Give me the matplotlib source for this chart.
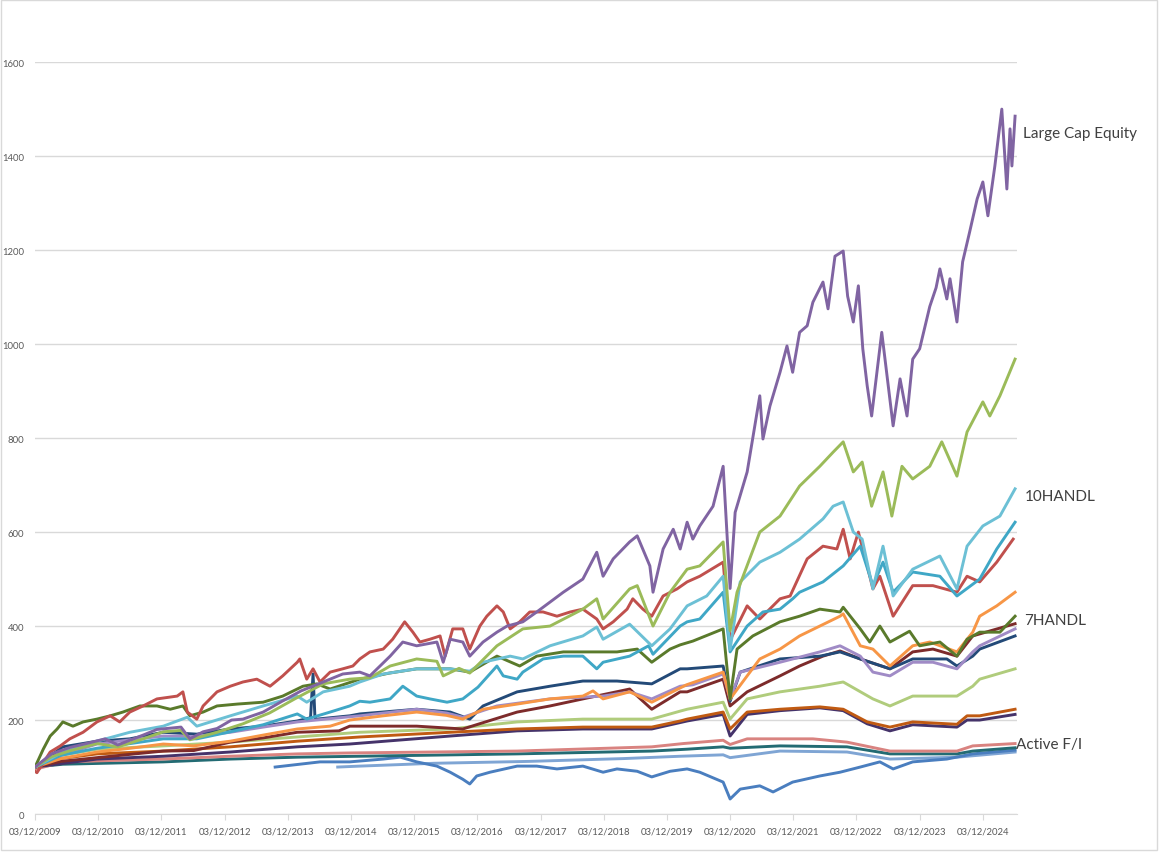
import matplotlib
matplotlib.use("Agg")
import matplotlib.pyplot as plt
from matplotlib.patches import Rectangle

plt.rcParams["font.family"] = ["Lato", "DejaVu Sans"]

# x values are decimal years (03/12/2009 = 2009.19)
large_cap_t = [2009.19, 2009.45, 2009.75, 2010.0, 2010.3, 2010.5, 2010.9, 2011.12, 2011.5, 2011.64,
               2011.85, 2012.07, 2012.3, 2012.48, 2012.8, 2013.1, 2013.4, 2013.75, 2014.06, 2014.33,
               2014.49, 2014.81, 2015.01, 2015.23, 2015.55, 2015.65, 2015.76, 2015.96, 2016.07, 2016.28,
               2016.5, 2016.66, 2016.91, 2017.13, 2017.34, 2017.55, 2017.86, 2018.08, 2018.18, 2018.34,
               2018.6, 2018.72, 2018.92, 2018.97, 2019.13, 2019.29, 2019.4, 2019.51, 2019.6, 2019.71,
               2019.92, 2020.08, 2020.19, 2020.27, 2020.46, 2020.66, 2020.71, 2020.82, 2020.98, 2021.09,
               2021.18, 2021.29, 2021.41, 2021.5, 2021.66, 2021.74, 2021.85, 2021.98, 2022.05, 2022.14,
               2022.22, 2022.29, 2022.36, 2022.43, 2022.59, 2022.77, 2022.88, 2022.99, 2023.08, 2023.19,
               2023.35, 2023.45, 2023.51, 2023.62, 2023.67, 2023.78, 2023.87, 2023.98, 2024.1, 2024.19,
               2024.27, 2024.38, 2024.49, 2024.57, 2024.62, 2024.65, 2024.7]
large_cap_v = [100, 128, 142, 150, 160, 147, 168, 180, 185, 160,
               175, 182, 200, 202, 217, 240, 262, 281, 298, 302,
               294, 336, 366, 358, 366, 323, 372, 366, 336, 366,
               387, 400, 409, 430, 451, 472, 500, 557, 506, 543,
               579, 592, 528, 472, 564, 606, 564, 621, 585, 613,
               655, 740, 480, 642, 728, 890, 798, 868, 940, 996,
               940, 1025, 1039, 1089, 1132, 1075, 1187, 1198, 1102, 1047,
               1124, 990, 911, 847, 1025, 826, 926, 847, 968, 990,
               1080, 1120, 1160, 1096, 1139, 1047, 1175, 1238, 1309, 1345,
               1273, 1379, 1500, 1330, 1458, 1379, 1485]

green_t = [2009.19, 2009.45, 2009.75, 2010.17, 2010.5, 2010.9, 2011.22, 2011.5, 2011.64, 2012.07,
           2012.48, 2012.9, 2013.3, 2013.75, 2014.17, 2014.49, 2014.81, 2015.23, 2015.55, 2015.65,
           2015.9, 2016.07, 2016.5, 2016.91, 2017.34, 2017.86, 2018.08, 2018.18, 2018.6, 2018.72,
           2018.97, 2019.24, 2019.51, 2019.71, 2020.08, 2020.19, 2020.3, 2020.66, 2020.98, 2021.29,
           2021.61, 2021.82, 2021.98, 2022.14, 2022.28, 2022.43, 2022.61, 2022.75, 2022.91, 2023.08,
           2023.35, 2023.54, 2023.78, 2023.94, 2024.19, 2024.3, 2024.46, 2024.7]
green_v = [100, 122, 135, 150, 143, 160, 175, 178, 158, 174,
           192, 215, 245, 277, 287, 290, 315, 330, 325, 294,
           310, 300, 358, 394, 400, 436, 458, 415, 479, 486,
           400, 472, 521, 528, 579, 390, 472, 600, 634, 698,
           740, 770, 792, 728, 749, 655, 728, 634, 740, 713,
           740, 792, 719, 813, 877, 847, 890, 968]

red_t = [2009.19, 2009.22, 2009.43, 2009.59, 2009.74, 2009.95, 2010.17, 2010.38, 2010.53, 2010.69,
         2010.9, 2011.12, 2011.44, 2011.53, 2011.6, 2011.75, 2011.85, 2012.07, 2012.28, 2012.48,
         2012.7, 2012.91, 2013.11, 2013.34, 2013.38, 2013.49, 2013.59, 2013.7, 2013.86, 2014.06,
         2014.22, 2014.33, 2014.49, 2014.7, 2014.85, 2015.04, 2015.17, 2015.28, 2015.44, 2015.6,
         2015.68, 2015.8, 2015.96, 2016.07, 2016.23, 2016.34, 2016.5, 2016.6, 2016.71, 2016.86,
         2017.02, 2017.23, 2017.45, 2017.66, 2017.86, 2018.08, 2018.18, 2018.34, 2018.56, 2018.65,
         2018.81, 2018.95, 2019.13, 2019.35, 2019.51, 2019.71, 2020.08, 2020.19, 2020.46, 2020.66,
         2020.98, 2021.14, 2021.41, 2021.66, 2021.88, 2021.98, 2022.09, 2022.22, 2022.36, 2022.45,
         2022.56, 2022.77, 2023.08, 2023.4, 2023.78, 2023.94, 2024.14, 2024.41, 2024.67]
red_v = [91, 88, 132, 145, 160, 174, 196, 209, 196, 217,
         230, 245, 251, 260, 217, 202, 230, 260, 272, 281,
         287, 272, 294, 323, 330, 287, 309, 281, 302, 309,
         315, 330, 345, 351, 372, 409, 387, 366, 372, 379,
         336, 394, 394, 351, 400, 421, 443, 430, 394, 409,
         430, 430, 421, 430, 436, 415, 394, 409, 436, 458,
         436, 421, 464, 479, 494, 506, 536, 370, 443, 415,
         458, 464, 543, 570, 564, 606, 543, 600, 528, 479,
         506, 421, 486, 486, 472, 506, 494, 536, 585]

handl10_t = [2009.19, 2009.6, 2010.17, 2010.69, 2011.22, 2011.6, 2011.75, 2012.28, 2012.8, 2013.34,
             2013.49, 2013.75, 2014.17, 2014.33, 2014.7, 2015.23, 2015.76, 2016.07, 2016.28, 2016.71,
             2016.91, 2017.34, 2017.86, 2018.08, 2018.18, 2018.6, 2018.95, 2019.24, 2019.51, 2019.82,
             2020.08, 2020.19, 2020.35, 2020.66, 2020.98, 2021.29, 2021.66, 2021.82, 2021.98, 2022.14,
             2022.28, 2022.45, 2022.61, 2022.77, 2023.08, 2023.51, 2023.78, 2023.94, 2024.19, 2024.46,
             2024.7]
handl10_v = [100, 130, 155, 174, 187, 206, 187, 209, 230, 251,
             238, 260, 272, 281, 298, 309, 309, 304, 323, 336,
             330, 358, 379, 398, 372, 404, 358, 394, 443, 464,
             506, 350, 494, 536, 557, 585, 628, 655, 664, 600,
             585, 479, 570, 464, 521, 549, 479, 570, 613, 634,
             692]

cyan_t = [2009.19, 2009.6, 2010.17, 2010.7, 2011.22, 2011.75, 2012.28, 2012.8, 2013.34, 2013.49,
          2013.86, 2014.17, 2014.33, 2014.49, 2014.81, 2015.01, 2015.23, 2015.44, 2015.71, 2015.96,
          2016.2, 2016.5, 2016.6, 2016.82, 2016.91, 2017.23, 2017.55, 2017.86, 2018.08, 2018.18,
          2018.6, 2018.9, 2018.97, 2019.4, 2019.51, 2019.71, 2020.08, 2020.19, 2020.46, 2020.71,
          2020.98, 2021.18, 2021.29, 2021.66, 2021.98, 2022.25, 2022.45, 2022.61, 2022.77, 2023.08,
          2023.51, 2023.78, 2024.14, 2024.41, 2024.7]
cyan_v = [100, 125, 140, 150, 160, 160, 175, 190, 213, 202,
          217, 230, 240, 238, 245, 272, 251, 245, 238, 245,
          270, 315, 294, 287, 302, 330, 336, 336, 309, 323,
          336, 358, 340, 400, 409, 415, 472, 345, 400, 430,
          436, 458, 472, 494, 528, 570, 486, 536, 472, 515,
          506, 464, 500, 564, 621]

handl7_t = [2009.19, 2009.32, 2009.43, 2009.54, 2009.63, 2009.79, 2009.95, 2010.17, 2010.38, 2010.58,
            2010.85, 2011.12, 2011.33, 2011.53, 2011.64, 2011.85, 2012.07, 2012.39, 2012.8, 2013.11,
            2013.43, 2013.65, 2013.86, 2014.33, 2014.8, 2015.23, 2015.76, 2016.07, 2016.5, 2016.86,
            2017.13, 2017.55, 2017.97, 2018.4, 2018.72, 2018.95, 2019.24, 2019.4, 2019.6, 2020.08,
            2020.19, 2020.3, 2020.55, 2020.98, 2021.29, 2021.61, 2021.93, 2021.98, 2022.25, 2022.4,
            2022.56, 2022.72, 2023.03, 2023.19, 2023.51, 2023.78, 2023.94, 2024.14, 2024.46, 2024.7]
handl7_v = [100, 138, 166, 181, 196, 187, 196, 202, 209, 217,
            230, 230, 223, 230, 209, 217, 230, 234, 238, 251,
            272, 277, 266, 287, 300, 309, 309, 302, 336, 315,
            336, 345, 345, 345, 351, 323, 351, 360, 368, 394,
            245, 351, 379, 409, 421, 436, 430, 440, 394, 366,
            400, 366, 389, 358, 366, 336, 372, 387, 387, 421]

orange_t = [2009.19, 2009.6, 2010.17, 2010.7, 2011.22, 2011.7, 2012.28, 2012.8, 2013.34, 2013.86,
            2014.17, 2014.7, 2015.23, 2015.7, 2015.96, 2016.28, 2016.82, 2017.34, 2017.86, 2018.02,
            2018.18, 2018.6, 2018.95, 2019.5, 2020.08, 2020.19, 2020.46, 2020.66, 2020.98, 2021.29,
            2021.61, 2021.93, 2021.98, 2022.25, 2022.45, 2022.72, 2023.08, 2023.35, 2023.78, 2024.03,
            2024.14, 2024.41, 2024.7]
orange_v = [100, 118, 132, 140, 149, 145, 155, 168, 181, 187,
            200, 209, 217, 210, 202, 223, 234, 245, 251, 262,
            245, 260, 238, 275, 302, 245, 294, 330, 351, 379,
            400, 421, 426, 358, 351, 315, 358, 366, 345, 387,
            421, 443, 472]

lavender_t = [2009.19, 2009.6, 2010.17, 2010.7, 2011.22, 2011.7, 2012.28, 2012.8, 2013.34, 2013.86,
              2014.33, 2015.23, 2015.7, 2015.96, 2016.5, 2017.34, 2018.18, 2018.6, 2018.95, 2019.4,
              2019.6, 2020.08, 2020.19, 2020.35, 2020.98, 2021.61, 2021.93, 2022.25, 2022.45, 2022.72,
              2023.08, 2023.4, 2023.78, 2024.03, 2024.14, 2024.7]
lavender_v = [100, 125, 149, 158, 166, 165, 174, 185, 196, 203,
              209, 223, 215, 206, 230, 245, 251, 260, 245, 272,
              275, 298, 245, 302, 323, 345, 358, 336, 302, 294,
              323, 323, 309, 345, 358, 394]

navy_t = [2009.19, 2009.63, 2010.17, 2010.69, 2011.22, 2011.75, 2012.28, 2012.8, 2013.34, 2013.55,
          2013.59, 2013.62, 2013.65, 2014.17, 2014.33, 2015.23, 2015.76, 2016.07, 2016.28, 2016.82,
          2017.34, 2017.86, 2018.4, 2018.95, 2019.4, 2019.51, 2020.08, 2020.19, 2020.35, 2020.98,
          2021.61, 2021.93, 2022.25, 2022.72, 2023.08, 2023.62, 2023.78, 2024.03, 2024.14, 2024.7]
navy_v = [100, 143, 155, 160, 174, 170, 181, 187, 198, 205,
          298, 205, 202, 209, 213, 223, 217, 202, 230, 260,
          272, 283, 283, 277, 309, 309, 315, 240, 302, 330,
          336, 345, 330, 309, 330, 330, 315, 336, 351, 379]

maroon_t = [2009.19, 2009.6, 2010.17, 2011.22, 2011.7, 2012.28, 2012.8, 2013.34, 2014.0, 2014.17,
            2015.23, 2015.96, 2016.82, 2017.34, 2017.86, 2018.6, 2018.95, 2019.4, 2019.51, 2020.08,
            2020.19, 2020.46, 2020.98, 2021.29, 2021.66, 2021.93, 2022.25, 2022.72, 2023.08, 2023.4,
            2023.78, 2024.03, 2024.7]
maroon_v = [100, 112, 120, 134, 135, 153, 162, 174, 177, 187,
            187, 181, 217, 230, 245, 266, 223, 260, 260, 287,
            230, 260, 294, 315, 336, 347, 330, 309, 345, 351,
            336, 379, 405]

pale_green_t = [2009.19, 2009.6, 2010.17, 2011.22, 2012.28, 2013.34, 2014.33, 2015.76, 2016.82, 2017.86,
                2018.95, 2019.4, 2019.51, 2020.08, 2020.19, 2020.46, 2020.98, 2021.61, 2021.98, 2022.45,
                2022.72, 2023.08, 2023.78, 2024.03, 2024.14, 2024.7]
pale_green_v = [100, 125, 138, 145, 153, 164, 174, 181, 196, 202,
                202, 219, 223, 238, 202, 245, 260, 272, 281, 245,
                230, 251, 251, 272, 287, 309]

dark_orange_t = [2009.19, 2009.6, 2010.17, 2011.22, 2012.28, 2013.34, 2014.33, 2015.76, 2016.82, 2017.86,
                 2018.95, 2019.4, 2019.51, 2020.08, 2020.19, 2020.46, 2020.98, 2021.61, 2021.98, 2022.36,
                 2022.72, 2023.08, 2023.78, 2023.94, 2024.14, 2024.7]
dark_orange_v = [100, 118, 128, 134, 143, 155, 164, 174, 181, 185,
                 185, 198, 202, 217, 181, 217, 223, 228, 223, 196,
                 185, 196, 191, 209, 209, 223]

dark_purple_t = [2009.19, 2010.17, 2011.22, 2012.28, 2013.34, 2014.17, 2015.76, 2016.82, 2017.86, 2018.95,
                 2019.51, 2020.08, 2020.19, 2020.46, 2020.98, 2021.61, 2021.98, 2022.36, 2022.72, 2023.08,
                 2023.78, 2023.94, 2024.14, 2024.7]
dark_purple_v = [100, 117, 123, 132, 143, 149, 166, 177, 181, 181,
                 198, 212, 166, 212, 220, 226, 220, 192, 177, 190,
                 185, 200, 200, 212]

pink_t = [2009.19, 2009.63, 2011.22, 2012.28, 2013.34, 2014.17, 2016.82, 2018.95, 2019.45, 2020.08,
          2020.19, 2020.46, 2021.5, 2022.04, 2022.72, 2023.78, 2024.03, 2024.7]
pink_v = [95, 111, 117, 123, 128, 130, 134, 143, 150, 157,
          148, 160, 160, 153, 134, 134, 145, 150]

active_fi_t = [2009.19, 2009.63, 2011.22, 2012.28, 2013.34, 2014.33, 2016.82, 2018.95, 2019.51, 2020.08,
               2020.19, 2020.98, 2022.04, 2022.72, 2023.78, 2024.03, 2024.7]
active_fi_v = [100, 106, 111, 117, 121, 123, 128, 134, 138, 143,
               140, 145, 143, 128, 128, 134, 141]

blue_t = [2012.99, 2013.7, 2014.17, 2014.7, 2014.97, 2015.23, 2015.55, 2015.76, 2015.96, 2016.07,
          2016.18, 2016.39, 2016.82, 2017.13, 2017.45, 2017.86, 2018.18, 2018.4, 2018.72, 2018.95,
          2019.24, 2019.51, 2019.71, 2020.08, 2020.19, 2020.35, 2020.66, 2020.87, 2021.18, 2021.61,
          2021.93, 2022.25, 2022.56, 2022.77, 2023.08, 2023.62, 2024.03, 2024.7]
blue_v = [100, 111, 111, 117, 121, 111, 102, 89, 74, 64,
          81, 89, 102, 102, 96, 102, 89, 96, 91, 79,
          91, 96, 89, 68, 32, 53, 60, 47, 68, 81,
          89, 100, 111, 96, 111, 117, 128, 136]

light_blue_t = [2013.98, 2014.33, 2015.5, 2017.0, 2018.5, 2019.4, 2020.08, 2020.19, 2020.98, 2022.04,
                2022.72, 2023.78, 2024.7]
light_blue_v = [100, 102, 108, 112, 118, 123, 126, 120, 134, 132,
                117, 121, 132]

years = list(range(2009, 2025))

# drawn bottom first, top last
series = [
    (light_blue_t, light_blue_v, "#7fa5d4"),
    (blue_t, blue_v, "#4a7ebf"),
    (active_fi_t, active_fi_v, "#236b73"),
    (pink_t, pink_v, "#d98380"),
    (dark_purple_t, dark_purple_v, "#45336a"),
    (dark_orange_t, dark_orange_v, "#c05a12"),
    (pale_green_t, pale_green_v, "#b0cc7c"),
    (maroon_t, maroon_v, "#7d2b2b"),
    (navy_t, navy_v, "#234a78"),
    (lavender_t, lavender_v, "#a08bc6"),
    (orange_t, orange_v, "#f79646"),
    (handl7_t, handl7_v, "#5a7a2b"),
    (red_t, red_v, "#c0504d"),
    (cyan_t, cyan_v, "#3fa7c6"),
    (handl10_t, handl10_v, "#6cc0d5"),
    (green_t, green_v, "#9bbb59"),
    (large_cap_t, large_cap_v, "#8064a2"),
]

fig = plt.figure(figsize=(11.6, 8.53), dpi=100)
ax = fig.add_axes([0.0302, 0.0445, 0.8465, 0.8815])

for t, v, color in series:
    ax.plot(t, v, color=color, linewidth=2.1, solid_joinstyle="round")

ax.set_xlim(2009.19, 2024.73)
ax.set_ylim(0, 1600)
ax.set_yticks(range(0, 1601, 200))
ax.set_xticks([y + 0.19 for y in years])
ax.set_xticklabels([f"03/12/{y}" for y in years])

ax.grid(axis="y", color="#d9d9d9", linewidth=1.0)
ax.set_axisbelow(True)
for side in ("left", "right", "top"):
    ax.spines[side].set_visible(False)
ax.spines["bottom"].set_color("#d9d9d9")
ax.tick_params(axis="y", length=0, pad=8, labelsize=6.8, labelcolor="#595959")
ax.tick_params(axis="x", length=4, color="#d9d9d9", pad=5, labelsize=6.8, labelcolor="#595959")

labels = [
    ("Large Cap Equity", large_cap_t, large_cap_v, 8, -17),
    ("10HANDL", handl10_t, handl10_v, 10, -7),
    ("7HANDL", handl7_t, handl7_v, 9, -4),
    ("Active F/I", active_fi_t, active_fi_v, 1, 4),
]
for text, t, v, dx, dy in labels:
    ax.annotate(text, xy=(t[-1], v[-1]), xytext=(dx, dy), textcoords="offset pixels",
                fontsize=11, color="#404040", va="center", ha="left", annotation_clip=False)

fig.patches.append(Rectangle((1 / 1160, 2 / 853), 1156 / 1160, 850 / 853, transform=fig.transFigure,
                             fill=False, edgecolor="#d9d9d9", linewidth=1.0))

fig.savefig("out.png", dpi=100)
